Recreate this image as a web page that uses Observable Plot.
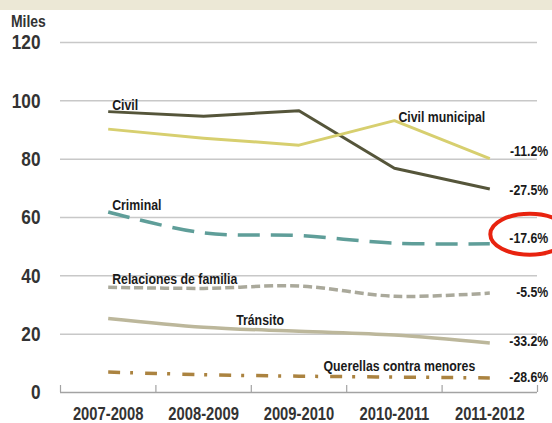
<!DOCTYPE html>
<html>
<head>
<meta charset="utf-8">
<script src="https://cdn.jsdelivr.net/npm/d3@7"></script>
<script src="https://cdn.jsdelivr.net/npm/@observablehq/plot@0.6"></script>
<style>
  html, body { margin: 0; padding: 0; background: #fff; }
  #wrap { position: relative; width: 552px; height: 423px; overflow: hidden; }
  #strip { position: absolute; left: 0; top: 0; width: 552px; height: 10px; background: #ece8d6; }
  #unit { position: absolute; left: 11px; top: 13px; font: bold 17px/17px 'Liberation Sans', Arial, sans-serif; color: #333; transform: scaleX(0.82); transform-origin: 0 0; }
  #chart { position: absolute; left: 0; top: 0; }
</style>
</head>
<body>
<div id="wrap">
  <div id="chart"></div>
  <div id="strip"></div>
  <div id="unit">Miles</div>
</div>
<script>
const periods = ["2007-2008", "2008-2009", "2009-2010", "2010-2011", "2011-2012"];
const civil = [96.3, 94.7, 96.6, 76.9, 69.8];
const civilMunicipal = [90.3, 87.2, 84.8, 93.2, 80.2];
const criminal = [61.9, 54.7, 53.8, 51.2, 51.0];
const relacionesFamilia = [36.1, 35.7, 36.5, 33.0, 34.1];
const transito = [25.4, 22.4, 21.0, 19.7, 17.0];
const querellas = [7.0, 6.1, 5.6, 5.3, 5.0];
const seriesNames = ["Civil", "Civil municipal", "Criminal", "Relaciones de familia", "Tránsito", "Querellas contra menores"];
const pctChange = ["-27.5%", "-11.2%", "-17.6%", "-5.5%", "-33.2%", "-28.6%"];
const yTicks = [0, 20, 40, 60, 80, 100, 120];

const FONT = "'Liberation Sans', Arial, sans-serif";
const NARROW = 0.82; // emulate a narrow (condensed) face
const seriesValues = [civil, civilMunicipal, criminal, relacionesFamilia, transito, querellas];

// styles for each series (same order as seriesNames)
const styles = [
  {stroke: "#55553a", strokeWidth: 3, dash: null, curve: "linear"},
  {stroke: "#d7cf6f", strokeWidth: 3, dash: null, curve: "linear"},
  {stroke: "#5f9e99", strokeWidth: 3.5, dash: "22,11", curve: "catmull-rom"},
  {stroke: "#aaa99b", strokeWidth: 3.5, dash: "9,4", curve: "catmull-rom"},
  {stroke: "#bcb79b", strokeWidth: 3.5, dash: null, curve: "catmull-rom"},
  {stroke: "#ab8340", strokeWidth: 3.5, dash: "12,10,3,12", curve: "catmull-rom"}
];
// label anchor: point index on the series, pixel offsets, text anchor
const nameLabel = [
  {i: 0, dx: 4, dy: -6, anchor: "start"},
  {i: 3, dx: 4, dy: -3, anchor: "start"},
  {i: 0, dx: 4, dy: -6.5, anchor: "start"},
  {i: 0, dx: 4, dy: -8, anchor: "start"},
  {i: 2, dx: -15, dy: -11, anchor: "end"},
  {i: 3, dx: 5, dy: -11, anchor: "middle"}
];
const pctDy = [1.6, -7.6, -5.7, -1, -1.4, -1.2];

const last = periods.length - 1;
const marks = [];

marks.push(Plot.ruleY(yTicks.filter(v => v > 0), {stroke: "#c8c8c8", strokeWidth: 1.5}));
marks.push(Plot.ruleY([0], {stroke: "#a3a3a3", strokeWidth: 1.5}));
marks.push(Plot.axisX(d3.range(periods.length + 1).map(i => i - 0.5), {
  tickSize: -7, tickFormat: () => "", stroke: "#a3a3a3", strokeWidth: 1.2
}));
marks.push(Plot.axisX(periods.map((_, i) => i), {
  tickSize: 0, tickPadding: 15, tickFormat: i => periods[i],
  fontSize: 18, fontWeight: "bold", fill: "#333", fontFamily: FONT
}));
marks.push(Plot.axisY(yTicks, {
  tickSize: 0, tickPadding: 20, fontSize: 21, fontWeight: "bold", fill: "#333", fontFamily: FONT
}));

seriesValues.forEach((vals, s) => {
  const st = styles[s];
  marks.push(Plot.line(vals, {
    x: (d, i) => i, y: d => d,
    stroke: st.stroke, strokeWidth: st.strokeWidth,
    strokeDasharray: st.dash, curve: st.curve, strokeLinecap: "butt"
  }));
});

seriesValues.forEach((vals, s) => {
  const L = nameLabel[s];
  marks.push(Plot.text([seriesNames[s]], {
    x: () => L.i, y: () => vals[L.i], text: d => d,
    dx: L.dx, dy: L.dy, textAnchor: L.anchor, lineAnchor: "middle",
    fontSize: 15, fontWeight: "bold", fill: "#1a1a1a", fontFamily: FONT
  }));
  marks.push(Plot.text([pctChange[s]], {
    x: () => last, y: () => vals[last], text: d => d,
    dx: 58.5, dy: pctDy[s], textAnchor: "end", lineAnchor: "middle",
    fontSize: 15, fontWeight: "bold", fill: "#1a1a1a", fontFamily: FONT
  }));
});

const chart = Plot.plot({
  width: 552, height: 423,
  marginLeft: 60, marginRight: 15, marginTop: 42, marginBottom: 31,
  x: {type: "linear", domain: [-0.5, periods.length - 0.5], axis: null},
  y: {domain: [0, 120], axis: null},
  style: {fontFamily: FONT, background: "transparent", overflow: "visible"},
  marks
});

// highlight ellipse around the Criminal change label
const sx = chart.scale("x"), sy = chart.scale("y");
d3.select(chart).append("ellipse")
  .attr("cx", sx.apply(last) + 40.5)
  .attr("cy", sy.apply(criminal[last]) - 9)
  .attr("rx", 39.5).attr("ry", 20.5)
  .attr("fill", "none").attr("stroke", "#e8230f").attr("stroke-width", 4);

document.getElementById("chart").appendChild(chart);

// condense every text horizontally (narrow face look)
d3.select(chart).selectAll("text").each(function() {
  if (!this.textContent) return;
  const w = this.getComputedTextLength();
  if (w > 0) {
    this.setAttribute("textLength", (w * NARROW).toFixed(2));
    this.setAttribute("lengthAdjust", "spacingAndGlyphs");
  }
});
</script>
</body>
</html>
